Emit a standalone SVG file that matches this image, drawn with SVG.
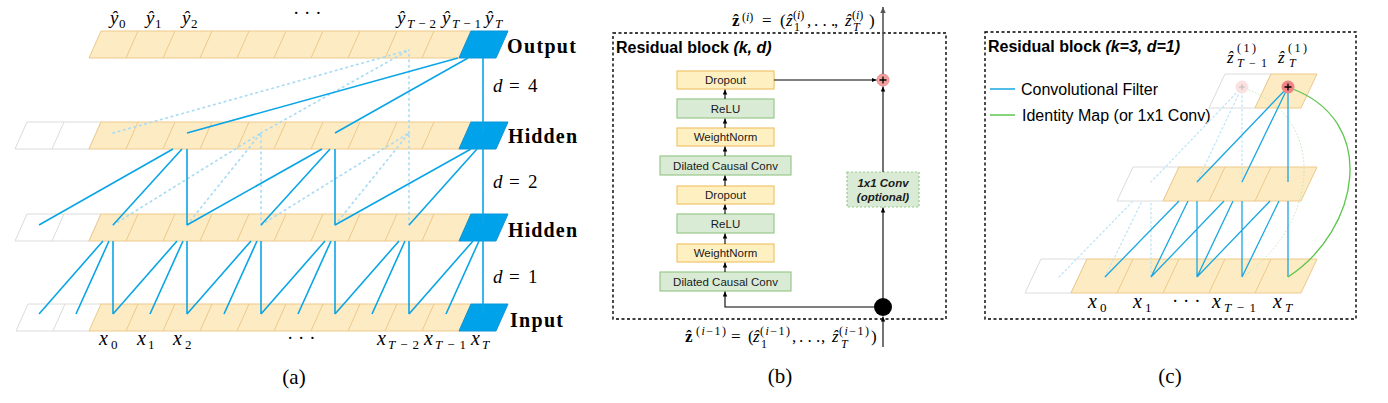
<svg xmlns="http://www.w3.org/2000/svg" width="1388" height="403" viewBox="0 0 1388 403">
<style>
.cell{fill:#fdebc3;stroke:#eec98a;stroke-width:1}
.sep{fill:none;stroke:#eec98a;stroke-width:1}
.pad{fill:#fff;stroke:#dcdcdc;stroke-width:1}
.blue{fill:#00a3e9;stroke:#0b93d6;stroke-width:1}
.conn{fill:none;stroke:#0aa5e6;stroke-width:1.6}
.conn2{fill:none;stroke:#1aa7e2;stroke-width:1.3}
.dots{fill:none;stroke:#abdcf3;stroke-width:1.7;stroke-dasharray:1.5 4;stroke-linecap:round}
.dots2{fill:none;stroke:#bfe5f7;stroke-width:1.3;stroke-dasharray:1.5 3;stroke-linecap:round}
.mi{font-family:"Liberation Serif","DejaVu Serif",serif;font-style:italic;fill:#000}
.mr{font-family:"Liberation Serif","DejaVu Serif",serif;fill:#000}
.mb{font-family:"Liberation Serif","DejaVu Serif",serif;font-weight:bold;fill:#000}
.lbl{font-family:"Liberation Serif",serif;font-weight:bold;font-size:20px}
.cap{font-family:"Liberation Serif",serif;font-size:21px;text-anchor:middle}
.yb{fill:#fff0c2;stroke:#f2c46a;stroke-width:1.2}
.gb{fill:#d9ebd5;stroke:#98c98a;stroke-width:1.2}
.bt{font-family:"Liberation Sans",Arial,sans-serif;font-size:11.5px;text-anchor:middle;fill:#1a1a1a}
.frame{fill:none;stroke:#000;stroke-width:1.4;stroke-dasharray:3 2.5}
.title{font-family:"Liberation Sans",Arial,sans-serif;font-weight:bold;font-size:16px}
.arr{fill:none;stroke:#000;stroke-width:1.1}
.leg{font-family:"Liberation Sans",Arial,sans-serif;font-size:16px}
</style>
<defs>
<marker id="ah" viewBox="0 0 10 10" refX="10" refY="5" markerWidth="5" markerHeight="5" markerUnits="userSpaceOnUse" orient="auto"><path d="M0 0.5L10 5L0 9.5z" fill="#000"/></marker>
<marker id="ahg" viewBox="0 0 10 10" refX="10" refY="5" markerWidth="6" markerHeight="6" markerUnits="userSpaceOnUse" orient="auto"><path d="M0 0.5L10 5L0 9.5z" fill="#555"/></marker>
<g id="row">
<polygon class="cell" points="89,27 101,0 471,0 459,27"/>
<path class="sep" d="M126 27L138 0M163 27L175 0M200 27L212 0M237 27L249 0M274 27L286 0M311 27L323 0M348 27L360 0M385 27L397 0M422 27L434 0"/>
<polygon class="blue" points="459,27 471,0 508,0 496,27"/>
</g>
<g id="padcells">
<polygon class="pad" points="15,27 27,0 101,0 89,27"/>
<path class="pad" d="M52 27L64 0"/>
</g>
</defs>

<!-- ===== Panel (a) ===== -->
<g id="a-output"><use href="#row" x="0" y="31"/></g>
<g id="a-hidden1"><use href="#padcells" x="0" y="122"/><use href="#row" x="0" y="122"/></g>
<g id="a-hidden2"><use href="#padcells" x="0" y="214"/><use href="#row" x="0" y="214"/></g>
<g id="a-input"><use href="#padcells" x="1" y="304"/><use href="#row" x="0" y="304"/></g>

<g id="a-connectors">
<path class="dots" d="M113 133L409 50M261 133L409 50M409 133L409 50M113 225L261 133M187 225L261 133M261 225L261 133M261 225L409 133M335 225L409 133M409 225L409 133"/>
<path class="conn" d="M39 314L103 241M76 314L109 241M113 314L113 241M113 314L177 241M150 314L183 241M187 314L187 241M187 314L251 241M224 314L257 241M261 314L261 241M261 314L325 241M298 314L331 241M335 314L335 241M335 314L399 241M372 314L405 241M409 314L409 241M409 314L473 241M446 314L479 241M483 314L483 241"/>
<path class="conn" d="M39 225L173 149M113 225L182 149M187 225L187 149M187 225L322 149M261 225L330 149M335 225L335 149M335 225L471 149M409 225L477 149M483 225L483 149"/>
<path class="conn" d="M187 133L458 58M335 133L468 58M483 133L483 58"/>
</g>

<g id="a-labels">
<text class="mi" x="110" y="24" font-size="19">ŷ</text><text class="mr" x="119" y="28" font-size="13">0</text>
<text class="mi" x="146" y="24" font-size="19">ŷ</text><text class="mr" x="155" y="28" font-size="13">1</text>
<text class="mi" x="182" y="24" font-size="19">ŷ</text><text class="mr" x="191" y="28" font-size="13">2</text>
<text class="mr" x="293" y="19" font-size="19">· · ·</text>
<text class="mi" x="397" y="24" font-size="19">ŷ</text><text class="mi" x="407" y="28" font-size="13" textLength="29" lengthAdjust="spacing">T<tspan font-style="normal">−2</tspan></text>
<text class="mi" x="442" y="24" font-size="19">ŷ</text><text class="mi" x="452" y="28" font-size="13" textLength="29" lengthAdjust="spacing">T<tspan font-style="normal">−1</tspan></text>
<text class="mi" x="485" y="24" font-size="19">ŷ</text><text class="mi" x="495" y="28" font-size="13">T</text>

<text class="lbl" x="507" y="53" textLength="69">Output</text>
<text class="lbl" x="508" y="143" textLength="69">Hidden</text>
<text class="lbl" x="508" y="237" textLength="69">Hidden</text>
<text class="lbl" x="510" y="327" textLength="53">Input</text>

<text class="mi" x="493" y="92" font-size="19">d</text><text class="mr" x="509" y="92" font-size="19">=</text><text class="mr" x="528" y="92" font-size="19">4</text>
<text class="mi" x="493" y="188" font-size="19">d</text><text class="mr" x="509" y="188" font-size="19">=</text><text class="mr" x="528" y="188" font-size="19">2</text>
<text class="mi" x="493" y="283" font-size="19">d</text><text class="mr" x="509" y="283" font-size="19">=</text><text class="mr" x="528" y="283" font-size="19">1</text>

<text class="mi" x="99" y="345" font-size="20">x</text><text class="mr" x="111" y="349" font-size="13">0</text>
<text class="mi" x="137" y="345" font-size="20">x</text><text class="mr" x="148" y="349" font-size="13">1</text>
<text class="mi" x="173" y="345" font-size="20">x</text><text class="mr" x="185" y="349" font-size="13">2</text>
<text class="mr" x="287" y="344" font-size="19">· · ·</text>
<text class="mi" x="377" y="345" font-size="20">x</text><text class="mi" x="388" y="349" font-size="13" textLength="31" lengthAdjust="spacing">T<tspan font-style="normal">−2</tspan></text>
<text class="mi" x="424" y="345" font-size="20">x</text><text class="mi" x="435" y="349" font-size="13" textLength="31" lengthAdjust="spacing">T<tspan font-style="normal">−1</tspan></text>
<text class="mi" x="471" y="345" font-size="20">x</text><text class="mi" x="482" y="349" font-size="13">T</text>
<text class="cap" x="294" y="384">(a)</text>
</g>

<!-- ===== Panel (b) ===== -->
<g id="b-frame">
<rect class="frame" x="613" y="33" width="333" height="286"/>
<text class="title" x="616" y="53">Residual block <tspan font-style="italic">(k, d)</tspan></text>
</g>
<g id="b-dropout2"><rect class="yb" x="677" y="71" width="97" height="18"/><text class="bt" x="725.5" y="84">Dropout</text></g>
<g id="b-relu2"><rect class="gb" x="677" y="99" width="97" height="19"/><text class="bt" x="725.5" y="112.5">ReLU</text></g>
<g id="b-wn2"><rect class="yb" x="677" y="128" width="97" height="18"/><text class="bt" x="725.5" y="141">WeightNorm</text></g>
<g id="b-conv2"><rect class="gb" x="660" y="156" width="131" height="19"/><text class="bt" x="725.5" y="169.5">Dilated Causal Conv</text></g>
<g id="b-dropout1"><rect class="yb" x="677" y="186" width="97" height="18"/><text class="bt" x="725.5" y="199">Dropout</text></g>
<g id="b-relu1"><rect class="gb" x="677" y="214" width="97" height="19"/><text class="bt" x="725.5" y="227.5">ReLU</text></g>
<g id="b-wn1"><rect class="yb" x="677" y="244" width="97" height="18"/><text class="bt" x="725.5" y="257">WeightNorm</text></g>
<g id="b-conv1"><rect class="gb" x="660" y="272" width="131" height="19"/><text class="bt" x="725.5" y="285.5">Dilated Causal Conv</text></g>
<g id="b-1x1"><rect x="847" y="172" width="72" height="35" fill="#d9ebd5" stroke="#98c98a" stroke-width="1.2" stroke-dasharray="2 2"/>
<text class="bt" x="883" y="187" font-size="10.5" font-weight="bold" font-style="italic">1x1 Conv</text>
<text class="bt" x="883" y="201" font-size="10.5" font-weight="bold" font-style="italic">(optional)</text></g>
<g id="b-plus"><circle cx="883" cy="80" r="6" fill="#f3a19e" stroke="#e88"/><path d="M879.5 80H886.5M883 76.5V83.5" stroke="#000" stroke-width="1.3"/></g>
<g id="b-split"><circle cx="883" cy="307" r="9" fill="#000"/></g>

<g id="b-connectors">
<path class="arr" marker-end="url(#ah)" d="M725 272V262.5"/>
<path class="arr" marker-end="url(#ah)" d="M725 244V233.5"/>
<path class="arr" marker-end="url(#ah)" d="M725 214V204.5"/>
<path class="arr" marker-end="url(#ah)" d="M725 186V175.5"/>
<path class="arr" marker-end="url(#ah)" d="M725 156V146.5"/>
<path class="arr" marker-end="url(#ah)" d="M725 128V118.5"/>
<path class="arr" marker-end="url(#ah)" d="M725 99V89.5"/>
<path class="arr" marker-end="url(#ah)" d="M774 80H876.5"/>
<path class="arr" marker-end="url(#ah)" d="M883 172V86.5"/>
<path class="arr" marker-end="url(#ah)" d="M883 298V207.5"/>
<path class="arr" marker-end="url(#ah)" d="M874 307H725V291.5"/>
<path class="arr" marker-end="url(#ah)" d="M883 347V316.5"/>
<path fill="none" stroke="#555" stroke-width="1.6" marker-end="url(#ahg)" d="M883 74V7"/>
</g>

<g id="b-labels">
<text class="mb" x="732" y="26" font-size="17">ẑ</text><text class="mr" x="742" y="21" font-size="12">(<tspan font-style="italic">i</tspan>)</text>
<text class="mr" x="762" y="26" font-size="17">=</text><text class="mr" x="780" y="26" font-size="17">(</text>
<text class="mi" x="786" y="26" font-size="17">ẑ</text><text class="mr" x="793" y="19" font-size="12">(<tspan font-style="italic">i</tspan>)</text><text class="mr" x="794" y="31" font-size="12">1</text>
<text class="mr" x="807" y="26" font-size="17">,</text><text class="mr" x="814" y="26" font-size="17">. . .</text><text class="mr" x="834" y="26" font-size="17">,</text>
<text class="mi" x="845" y="26" font-size="17">ẑ</text><text class="mr" x="852" y="19" font-size="12">(<tspan font-style="italic">i</tspan>)</text><text class="mi" x="853" y="31" font-size="12">T</text>
<text class="mr" x="869" y="26" font-size="17">)</text>

<text class="mb" x="685" y="342" font-size="17">ẑ</text><text class="mr" x="696" y="335" font-size="12" textLength="30">(<tspan font-style="italic">i</tspan>−1)</text>
<text class="mr" x="731" y="342" font-size="17">=</text><text class="mr" x="748" y="342" font-size="17">(</text>
<text class="mi" x="753" y="342" font-size="17">ẑ</text><text class="mr" x="760" y="335" font-size="12" textLength="30">(<tspan font-style="italic">i</tspan>−1)</text><text class="mr" x="761" y="348" font-size="12">1</text>
<text class="mr" x="792" y="342" font-size="17">,</text><text class="mr" x="799" y="342" font-size="17">. . .</text><text class="mr" x="821" y="342" font-size="17">,</text>
<text class="mi" x="832" y="342" font-size="17">ẑ</text><text class="mr" x="839" y="335" font-size="12" textLength="30">(<tspan font-style="italic">i</tspan>−1)</text><text class="mi" x="841" y="348" font-size="12">T</text>
<text class="mr" x="871" y="342" font-size="17">)</text>
<text class="cap" x="780" y="383">(b)</text>
</g>

<!-- ===== Panel (c) ===== -->
<g id="c-frame">
<rect class="frame" x="985" y="32" width="371" height="287"/>
<text class="title" x="988" y="52">Residual block <tspan font-style="italic">(k=3, d=1)</tspan></text>
</g>
<g id="c-legend">
<line x1="990" y1="89" x2="1015" y2="89" stroke="#1aa7e2" stroke-width="1.5"/>
<text class="leg" x="1021" y="95">Convolutional Filter</text>
<line x1="990" y1="115" x2="1015" y2="115" stroke="#5cc64c" stroke-width="1.5"/>
<text class="leg" x="1022" y="121">Identity Map (or 1x1 Conv)</text>
</g>
<g id="c-input">
<polygon class="pad" points="1025,293 1041,259 1087,259 1071,293"/>
<polygon class="cell" points="1071,293 1087,259 1317,259 1301,293"/>
<path class="sep" d="M1117 293L1133 259M1163 293L1179 259M1209 293L1225 259M1255 293L1271 259"/>
</g>
<g id="c-hidden">
<polygon class="pad" points="1117,201 1133,167 1179,167 1163,201"/>
<polygon class="cell" points="1163,201 1179,167 1317,167 1301,201"/>
<path class="sep" d="M1209 201L1225 167M1255 201L1271 167"/>
</g>
<g id="c-output">
<polygon class="pad" points="1209,108 1225,74 1271,74 1255,108"/>
<polygon class="cell" points="1255,108 1271,74 1317,74 1301,108"/>
</g>

<g id="c-connectors">
<path class="dots2" d="M1242 87L1151 182M1242 87L1197 182M1242 87L1242 182M1059 277L1133 201M1105 277L1142 201M1151 277L1151 201"/>
<path fill="none" stroke="#c4eab9" stroke-width="1" stroke-dasharray="1.5 2" d="M1242 277C1314 230 1334 120 1244 88"/>
<path class="conn2" d="M1288 87L1197 182M1288 87L1242 182M1288 87L1288 182M1105 277L1179 201M1151 277L1188 201M1197 277L1197 201M1151 277L1224 201M1197 277L1233 201M1242 277L1242 201M1197 277L1270 201M1242 277L1279 201M1288 277L1288 201"/>
<path fill="none" stroke="#5cc64c" stroke-width="1.3" d="M1288 277C1360 230 1380 120 1290 88"/>
</g>
<g id="c-sum-faded"><circle cx="1242" cy="87" r="6.5" fill="#fbe1e1"/><path d="M1239 87H1245M1242 84V90" stroke="#bbb" stroke-width="1"/></g>
<g id="c-sum"><circle cx="1288" cy="87" r="6.5" fill="#ef8385"/><path d="M1284.5 87H1291.5M1288 83.5V90.5" stroke="#000" stroke-width="1.3"/></g>

<g id="c-labels">
<text class="mi" x="1227" y="63" font-size="17">ẑ</text><text class="mr" x="1237" y="52" font-size="12" textLength="19">(1)</text><text class="mi" x="1237" y="67" font-size="12" textLength="30" lengthAdjust="spacing">T<tspan font-style="normal">−1</tspan></text>
<text class="mi" x="1278" y="63" font-size="17">ẑ</text><text class="mr" x="1288" y="52" font-size="12" textLength="19">(1)</text><text class="mi" x="1289" y="67" font-size="12">T</text>
<text class="mi" x="1088" y="308" font-size="20">x</text><text class="mr" x="1100" y="312" font-size="13">0</text>
<text class="mi" x="1133" y="308" font-size="20">x</text><text class="mr" x="1145" y="312" font-size="13">1</text>
<text class="mr" x="1172" y="307" font-size="19">· · ·</text>
<text class="mi" x="1212" y="308" font-size="20">x</text><text class="mi" x="1224" y="312" font-size="13" textLength="32" lengthAdjust="spacing">T<tspan font-style="normal">−1</tspan></text>
<text class="mi" x="1273" y="308" font-size="20">x</text><text class="mi" x="1285" y="312" font-size="13">T</text>
<text class="cap" x="1170" y="383">(c)</text>
</g>
</svg>
